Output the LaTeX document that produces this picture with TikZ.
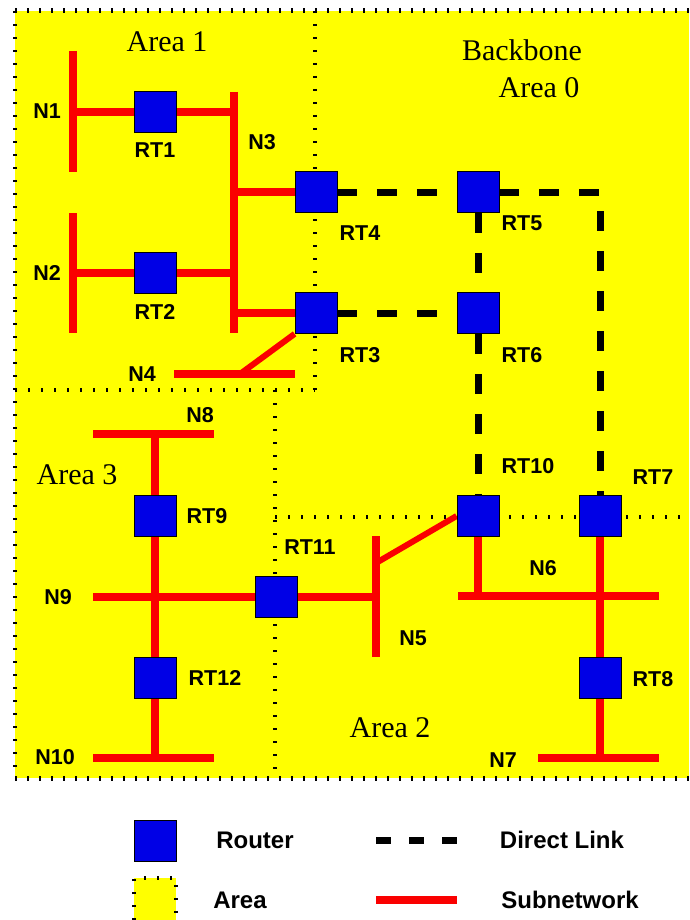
\documentclass[tikz,border=0pt]{standalone}
\usepackage{fontspec}
\setmainfont{Liberation Serif}
\setsansfont{Liberation Sans}
\pgfdeclarelayer{back}
\pgfdeclarelayer{mid}
\pgfsetlayers{back,mid,main}
\definecolor{rtblue}{RGB}{0,0,230}
\definecolor{areayellow}{RGB}{255,255,0}
\definecolor{netred}{RGB}{250,0,0}
\begin{document}
\begin{tikzpicture}[x=1pt,y=-1pt,
  router/.style={rectangle,fill=rtblue,draw=black,line width=0.8pt,minimum width=42pt,minimum height=41pt,inner sep=0pt},
  lbl/.style={font=\fontsize{21.5}{21.5}\selectfont\sffamily\bfseries,inner sep=0pt},
  arealbl/.style={font=\fontsize{30}{30}\selectfont\rmfamily,inner sep=0pt},
  legtxt/.style={font=\fontsize{24}{24}\selectfont\sffamily\bfseries,inner sep=0pt},
  subnet/.style={draw=netred,line width=7.5pt},
  dlink/.style={draw=black,line width=7pt,dash pattern=on 20pt off 20pt},
  areaborder/.style={draw=black,line width=4pt,dash pattern=on 2pt off 11pt},
  outerborder/.style={draw=black,line width=5pt,dash pattern=on 2pt off 10pt}]
\useasboundingbox (0,0) rectangle (689,920);

% ---------- routers ----------
\node[router] (rt1)  at (155,112) {};
\node[router] (rt2)  at (155,273) {};
\node[router] (rt4)  at (316,192) {};
\node[router] (rt3)  at (316,313) {};
\node[router] (rt5)  at (478,192) {};
\node[router] (rt6)  at (478,313) {};
\node[router] (rt10) at (478,516) {};
\node[router] (rt7)  at (600,516) {};
\node[router] (rt8)  at (600,678) {};
\node[router] (rt11) at (276,597) {};
\node[router] (rt9)  at (155,516) {};
\node[router] (rt12) at (155,678) {};

% ---------- network end points and junctions ----------
\coordinate (n1a) at (73,51);   \coordinate (n1b) at (73,172);
\coordinate (n1j) at (73,112);
\coordinate (n2a) at (73,213);  \coordinate (n2b) at (73,333);
\coordinate (n2j) at (73,273);
\coordinate (n3a) at (234,92);  \coordinate (n3b) at (234,333);
\coordinate (n3j1) at (234,112); \coordinate (n3j2) at (234,273);
\coordinate (n3j4) at (234,192); \coordinate (n3j3) at (234,313);
\coordinate (n4a) at (174,374); \coordinate (n4b) at (295,374);
\coordinate (n4j) at (240,374);
\coordinate (n5a) at (376,536); \coordinate (n5b) at (376,657);
\coordinate (n5j11) at (376,597); \coordinate (n5j10) at (376,563);
\coordinate (n6a) at (458,596); \coordinate (n6b) at (659,596);
\coordinate (n6j10) at (478,596); \coordinate (n6j7) at (600,596);
\coordinate (n7a) at (538,758); \coordinate (n7b) at (659,758);
\coordinate (n7j) at (600,758);
\coordinate (n8a) at (93,434);  \coordinate (n8b) at (214,434);
\coordinate (n8j) at (155,434);
\coordinate (n9a) at (93,597);
\coordinate (n9j) at (155,597);
\coordinate (n10a) at (93,758); \coordinate (n10b) at (214,758);
\coordinate (n10j) at (155,758);
\coordinate (c57) at (600,192);

% ---------- background and area borders ----------
\begin{pgfonlayer}{back}
  \fill[areayellow] (15,11) rectangle (689,778);
  \draw[outerborder] (15,11) -- (689,11);
  \draw[areaborder] (15,11) -- (15,778);
  \draw[outerborder] (15,778) -- (689,778);
  \draw[areaborder] (315,11) -- (315,390);
  \draw[areaborder] (15,390) -- (315,390);
  \draw[areaborder] (275,390) -- (275,778);
  \draw[areaborder] (275,517) -- (689,517);
\end{pgfonlayer}

% ---------- subnetworks and links ----------
\begin{pgfonlayer}{mid}
  % networks
  \draw[subnet] (n1a) -- (n1b);
  \draw[subnet] (n2a) -- (n2b);
  \draw[subnet] (n3a) -- (n3b);
  \draw[subnet] (n4a) -- (n4b);
  \draw[subnet] (n5a) -- (n5b);
  \draw[subnet] (n6a) -- (n6b);
  \draw[subnet] (n7a) -- (n7b);
  \draw[subnet] (n8a) -- (n8b);
  \draw[subnet] (n9a) -- (rt11);
  \draw[subnet] (n10a) -- (n10b);
  % router attachments
  \draw[subnet] (n1j) -- (rt1) -- (n3j1);
  \draw[subnet] (n2j) -- (rt2) -- (n3j2);
  \draw[subnet] (n3j4) -- (rt4);
  \draw[subnet] (n3j3) -- (rt3);
  \draw[subnet,line width=6pt] (rt3.south west) -- (n4j);
  \draw[subnet] (n8j) -- (rt9) -- (n9j) -- (rt12) -- (n10j);
  \draw[subnet] (rt11) -- (n5j11);
  \draw[subnet,line width=6pt] (n5j10) -- (rt10.west);
  \draw[subnet] (rt10) -- (n6j10);
  \draw[subnet] (rt7) -- (n6j7) -- (rt8) -- (n7j);
  % direct links
  \draw[dlink] (rt4.east) -- (rt5.west);
  \draw[dlink] (rt3.east) -- (rt6.west);
  \draw[dlink] (rt5.south) -- (rt6.north);
  \draw[dlink] (rt6.south) -- (rt10.north);
  \draw[dlink] (rt5.east) -- (c57) -- (rt7.north);
\end{pgfonlayer}

% ---------- labels ----------
\node[lbl] (ln1) at (47,111) {N1};
\node[lbl] (ln2) at (47,273) {N2};
\node[lbl] (ln3) at (262,142) {N3};
\node[lbl] (ln4) at (142,374) {N4};
\node[lbl] (ln5) at (413,638) {N5};
\node[lbl] (ln6) at (543,568) {N6};
\node[lbl] (ln7) at (503,760) {N7};
\node[lbl] (ln8) at (200,415) {N8};
\node[lbl] (ln9) at (58,597) {N9};
\node[lbl] (ln10) at (55,757) {N10};
\node[lbl] (lrt1) at (155,150) {RT1};
\node[lbl] (lrt2) at (155,312) {RT2};
\node[lbl] (lrt4) at (360,233) {RT4};
\node[lbl] (lrt3) at (360,355) {RT3};
\node[lbl] (lrt5) at (522,223) {RT5};
\node[lbl] (lrt6) at (522,355) {RT6};
\node[lbl] (lrt10) at (528,466) {RT10};
\node[lbl] (lrt7) at (653,477) {RT7};
\node[lbl] (lrt8) at (653,679) {RT8};
\node[lbl] (lrt11) at (310,547) {RT11};
\node[lbl] (lrt9) at (207,516) {RT9};
\node[lbl] (lrt12) at (215,678) {RT12};

\node[arealbl] (a1) at (167,42) {Area 1};
\node[arealbl] (a0a) at (522,50) {Backbone};
\node[arealbl] (a0b) at (539,88) {Area 0};
\node[arealbl] (a3) at (77,475) {Area 3};
\node[arealbl] (a2) at (390,728) {Area 2};

% ---------- legend ----------
\node[router] (legrt) at (155,841) {};
\node[legtxt] (legrtt) at (255,840) {Router};
\coordinate (legda) at (376,840); \coordinate (legdb) at (457,840);
\draw[draw=black,line width=7pt,dash pattern=on 15pt off 18pt] (legda) -- (legdb);
\node[legtxt] (legdt) at (562,840) {Direct Link};
\fill[areayellow] (134,878) rectangle (176,920);
\draw[areaborder] (134,920) -- (134,878) -- (176,878) -- (176,920);
\node[legtxt] (legat) at (240,900) {Area};
\coordinate (legsa) at (376,900); \coordinate (legsb) at (457,900);
\draw[subnet] (legsa) -- (legsb);
\node[legtxt] (legst) at (570,900) {Subnetwork};
\end{tikzpicture}
\end{document}
